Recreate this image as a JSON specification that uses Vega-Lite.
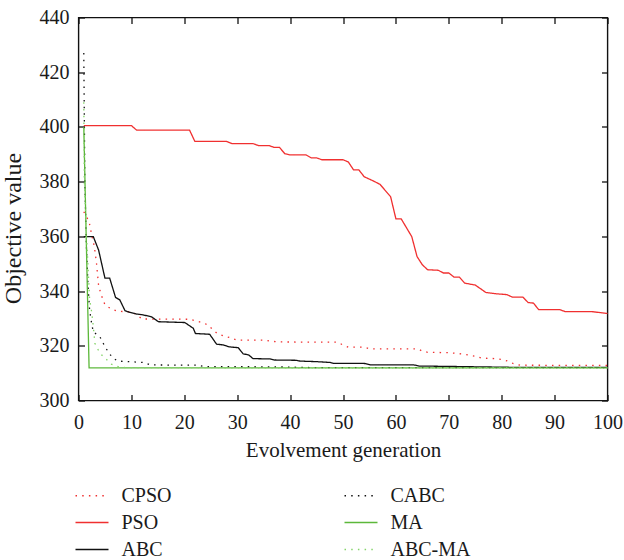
{
 "$schema": "https://vega.github.io/schema/vega-lite/v6.json",
 "width": 529, "height": 383,
 "autosize": {"type": "none"},
 "padding": {"left": 78.5, "top": 17.5, "right": 16.5, "bottom": 159.5},
 "background": "white",
 "config": {
  "font": "Liberation Serif",
  "view": {"stroke": "#111", "strokeWidth": 1.4},
  "axis": {"grid": false, "domain": false, "tickColor": "#111", "tickSize": -6, "tickWidth": 1.3,
   "labelFont": "Liberation Serif", "labelFontSize": 20, "labelColor": "#1a1a1a",
   "titleFont": "Liberation Serif", "titleFontSize": 21, "titleFontWeight": "normal", "titleColor": "#1a1a1a",
   "labelFlush": false, "labelOverlap": false},
  "legend": {"orient": "none", "legendX": -4, "legendY": 464.75, "columns": 2, "symbolType": "stroke",
   "symbolSize": 1089, "symbolStrokeWidth": 1.3, "labelFont": "Liberation Serif", "labelFontSize": 20,
   "labelColor": "#1a1a1a", "labelOffset": 12, "columnPadding": 171, "rowPadding": 0, "clipHeight": 26.5, "title": null, "padding": 0}
 },
 "data": {"values": [
  {"s": "PSO", "x": 1, "v": 400.5}, {"s": "PSO", "x": 10, "v": 400.5}, {"s": "PSO", "x": 11, "v": 398.8},
  {"s": "PSO", "x": 21, "v": 398.8}, {"s": "PSO", "x": 22, "v": 394.7}, {"s": "PSO", "x": 28, "v": 394.7},
  {"s": "PSO", "x": 29, "v": 393.9}, {"s": "PSO", "x": 33, "v": 393.9}, {"s": "PSO", "x": 34, "v": 393.2},
  {"s": "PSO", "x": 36, "v": 393.2}, {"s": "PSO", "x": 37, "v": 392.5}, {"s": "PSO", "x": 38, "v": 392.5},
  {"s": "PSO", "x": 39, "v": 390.2}, {"s": "PSO", "x": 40, "v": 389.8}, {"s": "PSO", "x": 43, "v": 389.8},
  {"s": "PSO", "x": 44, "v": 388.7}, {"s": "PSO", "x": 45, "v": 388.7}, {"s": "PSO", "x": 46, "v": 388.0},
  {"s": "PSO", "x": 50, "v": 388.0}, {"s": "PSO", "x": 51, "v": 387.2}, {"s": "PSO", "x": 52, "v": 384.3},
  {"s": "PSO", "x": 53, "v": 384.3}, {"s": "PSO", "x": 54, "v": 381.8}, {"s": "PSO", "x": 56, "v": 380.0},
  {"s": "PSO", "x": 57, "v": 379.0}, {"s": "PSO", "x": 59, "v": 374.5}, {"s": "PSO", "x": 60, "v": 366.4},
  {"s": "PSO", "x": 61, "v": 366.4}, {"s": "PSO", "x": 63, "v": 359.9}, {"s": "PSO", "x": 64, "v": 352.6},
  {"s": "PSO", "x": 65, "v": 349.6}, {"s": "PSO", "x": 66, "v": 347.8}, {"s": "PSO", "x": 68, "v": 347.6},
  {"s": "PSO", "x": 69, "v": 346.6}, {"s": "PSO", "x": 70, "v": 346.6}, {"s": "PSO", "x": 71, "v": 345.1},
  {"s": "PSO", "x": 72, "v": 345.1}, {"s": "PSO", "x": 73, "v": 342.9}, {"s": "PSO", "x": 75, "v": 342.2},
  {"s": "PSO", "x": 77, "v": 339.5}, {"s": "PSO", "x": 79, "v": 339.0}, {"s": "PSO", "x": 81, "v": 338.7},
  {"s": "PSO", "x": 82, "v": 337.8}, {"s": "PSO", "x": 84, "v": 337.8}, {"s": "PSO", "x": 85, "v": 335.8},
  {"s": "PSO", "x": 86, "v": 335.6}, {"s": "PSO", "x": 87, "v": 333.2}, {"s": "PSO", "x": 91, "v": 333.2},
  {"s": "PSO", "x": 92, "v": 332.5}, {"s": "PSO", "x": 97, "v": 332.5}, {"s": "PSO", "x": 100, "v": 331.8},

  {"s": "CPSO", "x": 1.0, "v": 369.0}, {"s": "CPSO", "x": 2.0, "v": 365.4}, {"s": "CPSO", "x": 2.5, "v": 360.5},
  {"s": "CPSO", "x": 3.0, "v": 356.2}, {"s": "CPSO", "x": 3.4, "v": 350.2}, {"s": "CPSO", "x": 3.8, "v": 342.0},
  {"s": "CPSO", "x": 4.3, "v": 338.6}, {"s": "CPSO", "x": 5.0, "v": 335.0}, {"s": "CPSO", "x": 6.2, "v": 333.4},
  {"s": "CPSO", "x": 7.5, "v": 332.6}, {"s": "CPSO", "x": 10, "v": 332.4}, {"s": "CPSO", "x": 11, "v": 331.4},
  {"s": "CPSO", "x": 12, "v": 329.8}, {"s": "CPSO", "x": 21, "v": 329.7}, {"s": "CPSO", "x": 22, "v": 329.2},
  {"s": "CPSO", "x": 23.2, "v": 328.6}, {"s": "CPSO", "x": 24.3, "v": 327.8}, {"s": "CPSO", "x": 25.3, "v": 326.1},
  {"s": "CPSO", "x": 26.2, "v": 324.5}, {"s": "CPSO", "x": 27.5, "v": 323.6}, {"s": "CPSO", "x": 28.6, "v": 323.0},
  {"s": "CPSO", "x": 29.9, "v": 322.1}, {"s": "CPSO", "x": 35, "v": 322.1}, {"s": "CPSO", "x": 36.2, "v": 321.7},
  {"s": "CPSO", "x": 38, "v": 321.4}, {"s": "CPSO", "x": 49, "v": 321.3}, {"s": "CPSO", "x": 50, "v": 320.3},
  {"s": "CPSO", "x": 51, "v": 319.5}, {"s": "CPSO", "x": 54, "v": 319.5}, {"s": "CPSO", "x": 55, "v": 318.9},
  {"s": "CPSO", "x": 64, "v": 318.9}, {"s": "CPSO", "x": 65, "v": 318.1}, {"s": "CPSO", "x": 66, "v": 317.6},
  {"s": "CPSO", "x": 70, "v": 317.5}, {"s": "CPSO", "x": 72.5, "v": 317.0}, {"s": "CPSO", "x": 73.7, "v": 316.6},
  {"s": "CPSO", "x": 75, "v": 316.2}, {"s": "CPSO", "x": 76.2, "v": 315.5}, {"s": "CPSO", "x": 79, "v": 315.3},
  {"s": "CPSO", "x": 80, "v": 315.0}, {"s": "CPSO", "x": 81, "v": 314.5}, {"s": "CPSO", "x": 82.2, "v": 313.5},
  {"s": "CPSO", "x": 83.5, "v": 312.9}, {"s": "CPSO", "x": 100, "v": 312.8},

  {"s": "ABC", "x": 1, "v": 359.9}, {"s": "ABC", "x": 2.8, "v": 359.9}, {"s": "ABC", "x": 3.8, "v": 355.0},
  {"s": "ABC", "x": 5.0, "v": 344.7}, {"s": "ABC", "x": 5.9, "v": 344.7}, {"s": "ABC", "x": 7.0, "v": 337.7},
  {"s": "ABC", "x": 7.8, "v": 336.8}, {"s": "ABC", "x": 8.8, "v": 332.8}, {"s": "ABC", "x": 9.7, "v": 332.2},
  {"s": "ABC", "x": 11, "v": 331.6}, {"s": "ABC", "x": 12.2, "v": 331.3}, {"s": "ABC", "x": 13.8, "v": 330.6},
  {"s": "ABC", "x": 15.1, "v": 328.8}, {"s": "ABC", "x": 20.1, "v": 328.5}, {"s": "ABC", "x": 21.7, "v": 326.4},
  {"s": "ABC", "x": 22.1, "v": 324.5}, {"s": "ABC", "x": 24.8, "v": 324.2}, {"s": "ABC", "x": 26.1, "v": 320.6},
  {"s": "ABC", "x": 27.4, "v": 320.3}, {"s": "ABC", "x": 28.5, "v": 319.6}, {"s": "ABC", "x": 30.2, "v": 319.3},
  {"s": "ABC", "x": 31.1, "v": 317.1}, {"s": "ABC", "x": 32.2, "v": 316.6}, {"s": "ABC", "x": 33.0, "v": 315.3},
  {"s": "ABC", "x": 36.2, "v": 315.2}, {"s": "ABC", "x": 37.1, "v": 314.8}, {"s": "ABC", "x": 41.2, "v": 314.7},
  {"s": "ABC", "x": 41.9, "v": 314.4}, {"s": "ABC", "x": 45, "v": 314.2}, {"s": "ABC", "x": 47.6, "v": 313.9},
  {"s": "ABC", "x": 48.2, "v": 313.6}, {"s": "ABC", "x": 53.9, "v": 313.6}, {"s": "ABC", "x": 55.2, "v": 313.0},
  {"s": "ABC", "x": 63.4, "v": 313.0}, {"s": "ABC", "x": 64.4, "v": 312.6}, {"s": "ABC", "x": 72.2, "v": 312.4},
  {"s": "ABC", "x": 82.9, "v": 312.1}, {"s": "ABC", "x": 100, "v": 312.1},

  {"s": "CABC", "x": 1.0, "v": 427.0}, {"s": "CABC", "x": 1.2, "v": 380.0}, {"s": "CABC", "x": 1.5, "v": 356.0},
  {"s": "CABC", "x": 1.8, "v": 342.0}, {"s": "CABC", "x": 2.1, "v": 333.0}, {"s": "CABC", "x": 2.5, "v": 328.0},
  {"s": "CABC", "x": 2.8, "v": 325.0}, {"s": "CABC", "x": 4.0, "v": 323.5}, {"s": "CABC", "x": 4.5, "v": 321.5},
  {"s": "CABC", "x": 5.1, "v": 319.4}, {"s": "CABC", "x": 5.8, "v": 317.2}, {"s": "CABC", "x": 6.6, "v": 315.4},
  {"s": "CABC", "x": 7.5, "v": 314.4}, {"s": "CABC", "x": 12.4, "v": 313.9}, {"s": "CABC", "x": 13.6, "v": 313.0},
  {"s": "CABC", "x": 22.4, "v": 312.9}, {"s": "CABC", "x": 23.9, "v": 312.4}, {"s": "CABC", "x": 37, "v": 312.3},
  {"s": "CABC", "x": 45, "v": 312.0}, {"s": "CABC", "x": 100, "v": 312.0},

  {"s": "MA", "x": 1, "v": 400.0}, {"s": "MA", "x": 2, "v": 311.9}, {"s": "MA", "x": 100, "v": 311.9},

  {"s": "ABC-MA", "x": 1.0, "v": 409.0}, {"s": "ABC-MA", "x": 1.1, "v": 380.0}, {"s": "ABC-MA", "x": 1.5, "v": 361.0},
  {"s": "ABC-MA", "x": 2.1, "v": 337.0}, {"s": "ABC-MA", "x": 2.5, "v": 332.2}, {"s": "ABC-MA", "x": 2.8, "v": 327.0},
  {"s": "ABC-MA", "x": 3.1, "v": 320.9}, {"s": "ABC-MA", "x": 3.7, "v": 318.6}, {"s": "ABC-MA", "x": 4.4, "v": 316.6},
  {"s": "ABC-MA", "x": 5.4, "v": 314.8}, {"s": "ABC-MA", "x": 6.2, "v": 313.3}, {"s": "ABC-MA", "x": 7.5, "v": 312.4},
  {"s": "ABC-MA", "x": 9, "v": 312.0}, {"s": "ABC-MA", "x": 100, "v": 311.9}
 ]},
 "layer": [
  {
   "mark": {"type": "line", "strokeWidth": 1.3},
   "encoding": {
    "x": {"field": "x", "type": "quantitative", "scale": {"domain": [0, 100], "nice": false},
     "axis": {"values": [0, 10, 20, 30, 40, 50, 60, 70, 80, 90, 100], "title": "Evolvement generation", "labelPadding": 18, "titlePadding": 7}},
    "y": {"field": "v", "type": "quantitative", "scale": {"domain": [300, 440], "nice": false, "zero": false},
     "axis": {"values": [300, 320, 340, 360, 380, 400, 420, 440], "title": "Objective value", "labelPadding": 15.5,
      "titleFontSize": 24, "titleX": -53.5, "titleY": 210.5}},
    "color": {"field": "s", "type": "nominal",
     "scale": {"domain": ["CPSO", "PSO", "ABC", "CABC", "MA", "ABC-MA"],
      "range": ["#f03030", "#f03030", "#111111", "#111111", "#5cb83a", "#85d46a"]}},
    "strokeDash": {"field": "s", "type": "nominal",
     "scale": {"domain": ["CPSO", "PSO", "ABC", "CABC", "MA", "ABC-MA"],
      "range": [[1.5, 5.2], [1, 0], [1, 0], [1.5, 5.2], [1, 0], [1.5, 5.2]]}},
    "order": {"field": "x", "type": "quantitative"}
   }
  },
  {
   "mark": {"type": "line", "opacity": 0},
   "encoding": {
    "x": {"field": "x", "type": "quantitative", "axis": {"orient": "top", "labels": false, "title": null, "values": [0, 10, 20, 30, 40, 50, 60, 70, 80, 90, 100]}},
    "y": {"field": "v", "type": "quantitative", "axis": {"orient": "right", "labels": false, "title": null, "values": [300, 320, 340, 360, 380, 400, 420, 440]}},
    "detail": {"field": "s"}
   }
  }
 ],
 "resolve": {"axis": {"x": "independent", "y": "independent"}}
}
